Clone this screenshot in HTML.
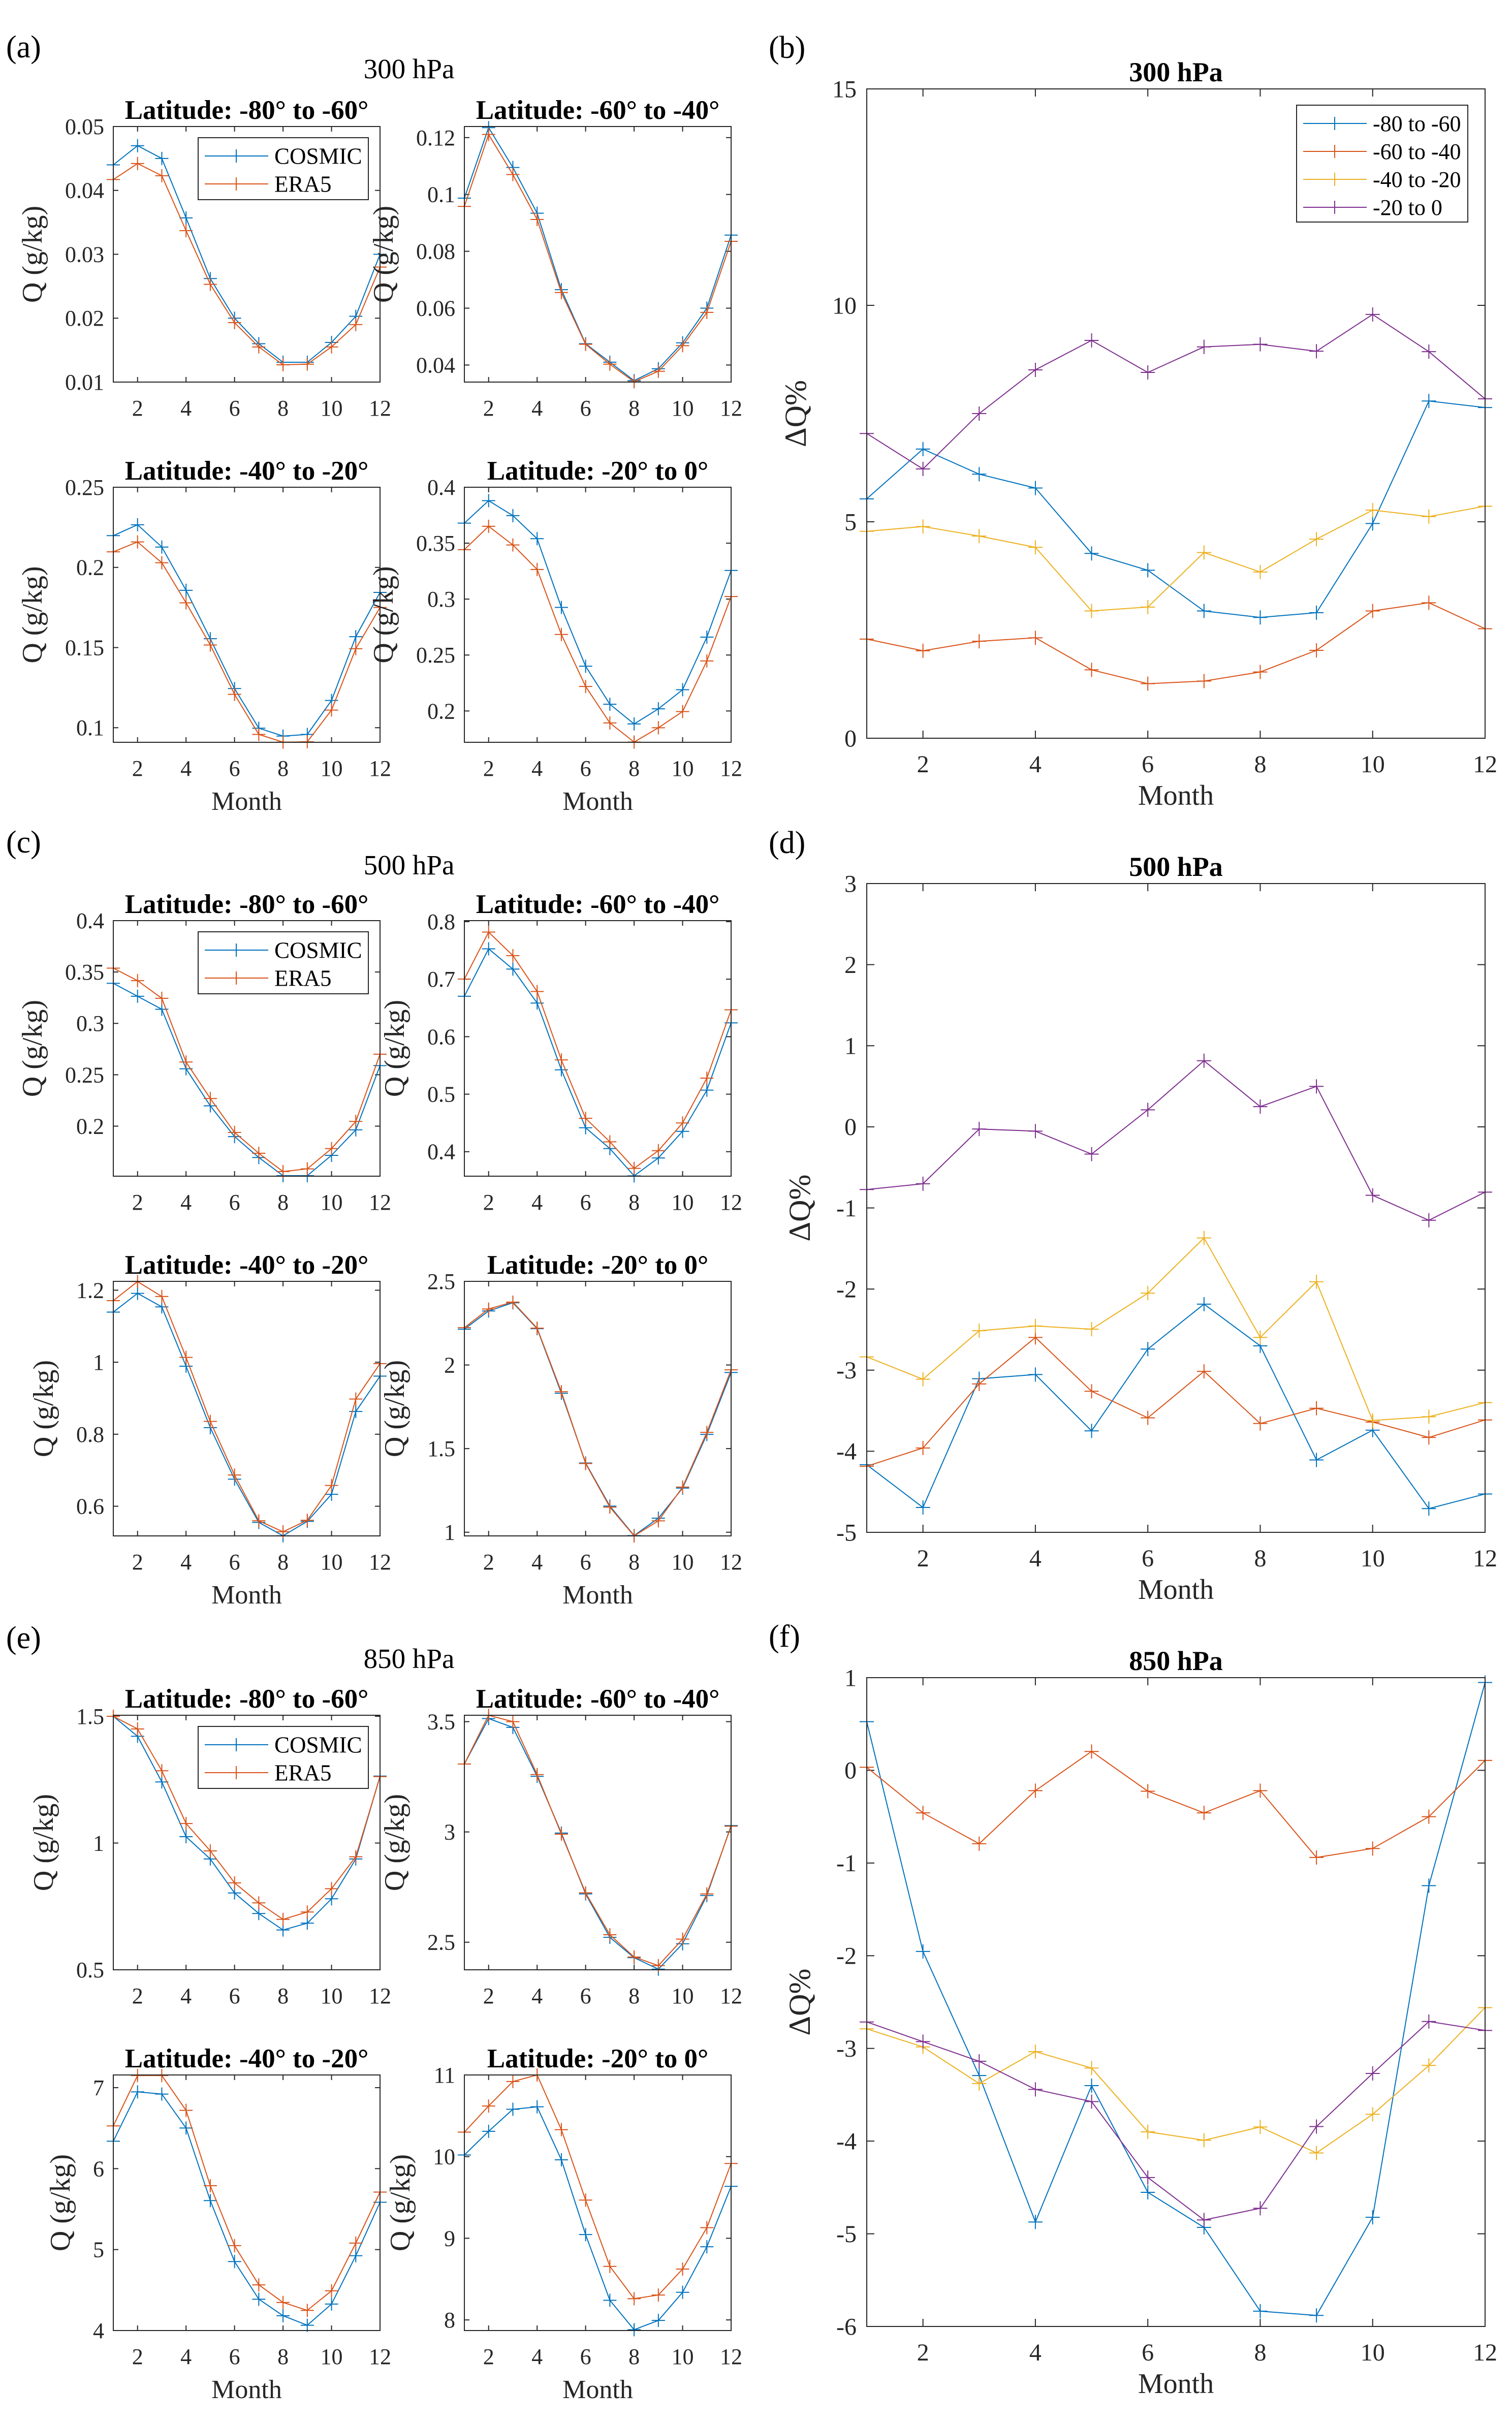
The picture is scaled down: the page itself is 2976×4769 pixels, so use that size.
<!DOCTYPE html>
<html><head><meta charset="utf-8">
<style>
html,body{margin:0;padding:0;background:#fff;}
svg{display:block;font-family:"Liberation Serif",serif;}
</style></head>
<body>
<svg id="fig" width="2976" height="4769" viewBox="0 0 2976 4769" xmlns="http://www.w3.org/2000/svg"></svg>
<script>
// ---------- data ----------
const months = [1,2,3,4,5,6,7,8,9,10,11,12];
const xTicks = [2,4,6,8,10,12];
const latTitles = ["Latitude: -80° to -60°","Latitude: -60° to -40°","Latitude: -40° to -20°","Latitude: -20° to 0°"];
const bandLabels = ["-80 to -60","-60 to -40","-40 to -20","-20 to 0"];

// 300 hPa
const cos300_1 = [0.0440,0.0470,0.0450,0.0357,0.0262,0.0200,0.0160,0.0131,0.0131,0.0162,0.0203,0.0300];
const era300_1 = [0.0417,0.0442,0.0423,0.0337,0.0253,0.0193,0.0155,0.0127,0.0128,0.0155,0.0190,0.0280];
const cos300_2 = [0.0987,0.1235,0.1095,0.0934,0.0665,0.0475,0.0410,0.0345,0.0387,0.0478,0.0600,0.0857];
const era300_2 = [0.0958,0.1211,0.1070,0.0912,0.0655,0.0473,0.0403,0.0341,0.0378,0.0468,0.0585,0.0835];
const cos300_3 = [0.2198,0.2266,0.2127,0.1857,0.1555,0.1244,0.0997,0.0948,0.0958,0.1170,0.1568,0.1844];
const era300_3 = [0.2097,0.2159,0.2029,0.1779,0.1516,0.1208,0.0958,0.0910,0.0912,0.1110,0.1493,0.1750];
const cos300_4 = [0.3679,0.3880,0.3746,0.3540,0.2926,0.2400,0.2060,0.1884,0.2019,0.2190,0.2660,0.3256];
const era300_4 = [0.3442,0.3651,0.3484,0.3265,0.2684,0.2219,0.1893,0.1722,0.1850,0.1995,0.2447,0.3023];
// 500 hPa
const cos500_1 = [0.3390,0.3264,0.3137,0.2558,0.2198,0.1898,0.1695,0.1518,0.1518,0.1716,0.1964,0.2589];
const era500_1 = [0.3538,0.3416,0.3244,0.2624,0.2269,0.1939,0.1736,0.1558,0.1584,0.1782,0.2046,0.2700];
const cos500_2 = [0.6703,0.7528,0.7175,0.6585,0.5424,0.4417,0.4054,0.3580,0.3891,0.4354,0.5070,0.6240];
const era500_2 = [0.7002,0.7819,0.7410,0.6785,0.5596,0.4580,0.4172,0.3710,0.4018,0.4499,0.5279,0.6467];
const cos500_3 = [1.1393,1.1913,1.1537,0.9889,0.8183,0.6752,0.5552,0.5180,0.5580,0.6332,0.8631,0.9614];
const era500_3 = [1.1710,1.2240,1.1826,1.0135,0.8356,0.6867,0.5595,0.5291,0.5610,0.6578,0.8978,0.9960];
const cos500_4 = [2.214,2.323,2.372,2.217,1.831,1.414,1.156,0.980,1.084,1.264,1.585,1.955];
const era500_4 = [2.223,2.335,2.376,2.220,1.840,1.411,1.150,0.978,1.068,1.270,1.597,1.971];
// 850 hPa
const cos850_1 = [1.500,1.421,1.241,1.025,0.937,0.803,0.722,0.657,0.684,0.780,0.937,1.264];
const era850_1 = [1.500,1.450,1.285,1.077,0.969,0.843,0.764,0.699,0.728,0.820,0.946,1.262];
const cos850_2 = [3.308,3.514,3.474,3.252,2.995,2.719,2.522,2.430,2.378,2.493,2.712,3.029];
const era850_2 = [3.308,3.529,3.500,3.260,2.990,2.724,2.534,2.433,2.394,2.514,2.719,3.026];
const cos850_3 = [6.339,6.948,6.921,6.502,5.605,4.852,4.387,4.183,4.065,4.327,4.924,5.585];
const era850_3 = [6.528,7.150,7.150,6.720,5.789,5.049,4.564,4.347,4.249,4.491,5.080,5.710];
const cos850_4 = [10.02,10.31,10.58,10.61,9.961,9.045,8.240,7.880,7.994,8.338,8.896,9.636];
const era850_4 = [10.30,10.62,10.92,11.00,10.33,9.468,8.656,8.260,8.305,8.623,9.130,9.916];

// Delta Q% (big panels)
const dq300_a = [5.53,6.68,6.10,5.78,4.27,3.88,2.94,2.79,2.90,4.96,7.79,7.64];
const dq300_b = [2.29,2.02,2.24,2.32,1.58,1.26,1.32,1.53,2.03,2.94,3.13,2.53];
const dq300_c = [4.78,4.89,4.67,4.41,2.94,3.03,4.29,3.84,4.60,5.27,5.12,5.36];
const dq300_d = [7.04,6.22,7.50,8.51,9.19,8.45,9.04,9.10,8.94,9.79,8.93,7.84];
const dq500_a = [-4.166,-4.693,-3.106,-3.054,-3.749,-2.740,-2.186,-2.700,-4.107,-3.740,-4.707,-4.527];
const dq500_b = [-4.185,-3.960,-3.170,-2.597,-3.260,-3.588,-3.015,-3.658,-3.470,-3.640,-3.830,-3.614];
const dq500_c = [-2.836,-3.112,-2.514,-2.456,-2.495,-2.051,-1.370,-2.597,-1.910,-3.620,-3.575,-3.400];
const dq500_d = [-0.773,-0.702,-0.027,-0.053,-0.336,0.210,0.815,0.249,0.499,-0.844,-1.152,-0.805];
const dq850_a = [0.525,-1.954,-3.293,-4.873,-3.402,-4.553,-4.931,-5.835,-5.881,-4.822,-1.244,0.948];
const dq850_b = [0.033,-0.459,-0.792,-0.219,0.204,-0.225,-0.459,-0.219,-0.940,-0.843,-0.500,0.107];
const dq850_c = [-2.789,-2.984,-3.379,-3.035,-3.212,-3.900,-3.991,-3.848,-4.128,-3.711,-3.184,-2.560];
const dq850_d = [-2.715,-2.927,-3.139,-3.442,-3.574,-4.393,-4.851,-4.725,-3.843,-3.270,-2.710,-2.806];

// ticks / ranges
const yr300 = [[0.01,0.05],[0.034,0.1239],[0.0909,0.25],[0.172,0.4]];
const yt300 = [[0.01,0.02,0.03,0.04,0.05],[0.04,0.06,0.08,0.1,0.12],[0.1,0.15,0.2,0.25],[0.2,0.25,0.3,0.35,0.4]];
const yr500 = [[0.1513,0.4],[0.3574,0.8018],[0.5176,1.2246],[0.978,2.5]];
const yt500 = [[0.2,0.25,0.3,0.35,0.4],[0.4,0.5,0.6,0.7,0.8],[0.6,0.8,1,1.2],[1,1.5,2,2.5]];
const yr850 = [[0.5,1.504],[2.375,3.529],[4,7.157],[7.87,11]];
const yt850 = [[0.5,1,1.5],[2.5,3,3.5],[4,5,6,7],[8,9,10,11]];
const ytDQ300 = [0,5,10,15];
const ytDQ500 = [-5,-4,-3,-2,-1,0,1,2,3];
const ytDQ850 = [-6,-5,-4,-3,-2,-1,0,1];

// ---------- drawing ----------
const NS = "http://www.w3.org/2000/svg";
const svg = document.getElementById("fig");
const BLUE="#0072BD", ORANGE="#D95319", YELLOW="#EDB120", PURPLE="#7E2F8E", AX="#262626";
function mk(tag, attrs, parent){
  const e = document.createElementNS(NS, tag);
  for (const k in attrs) e.setAttribute(k, attrs[k]);
  (parent||svg).appendChild(e);
  return e;
}
function txt(s, x, y, size, opts, parent){
  const t = mk("text", {x:x, y:y, "font-size":size, fill:(opts&&opts.fill)||AX, "text-anchor":(opts&&opts.anchor)||"middle"}, parent);
  if (opts && opts.bold) t.setAttribute("font-weight","bold");
  if (opts && opts.rot) t.setAttribute("transform","rotate(-90 "+x+" "+y+")");
  t.textContent = s;
  return t;
}
function fmt(v){ return String(+v.toFixed(4)); }

function axes(name, L, R, T, B, yr, yticks, series, colors, o){
  const g = mk("g", {});
  
  
  const sx = v => L + (v-1)/(11)*(R-L);
  const sy = v => B - (v-yr[0])/(yr[1]-yr[0])*(B-T);
  const tl = o.tick;
  xTicks.forEach(t=>{
    const x = sx(t);
    mk("line",{x1:x,y1:B,x2:x,y2:B-tl,stroke:AX,"stroke-width":2},g);
    mk("line",{x1:x,y1:T,x2:x,y2:T+tl,stroke:AX,"stroke-width":2},g);
    const lab = txt(String(t), x, B+o.xtOff, o.tf, {}, g);
    
    
  });
  let maxW = 0;
  yticks.forEach(t=>{
    const y = sy(t);
    mk("line",{x1:L,y1:y,x2:L+tl,y2:y,stroke:AX,"stroke-width":2},g);
    mk("line",{x1:R,y1:y,x2:R-tl,y2:y,stroke:AX,"stroke-width":2},g);
    const lab = txt(fmt(t), L-o.ytGap, y+o.tf*0.34, o.tf, {anchor:"end"}, g);
    
    
    try{ maxW = Math.max(maxW, lab.getComputedTextLength()); }catch(e){}
  });
  if (!maxW) maxW = o.tf*2;
  const cp = "clip-"+name;
  const cpe = mk("clipPath",{id:cp},g);
  mk("rect",{x:L-16,y:T-16,width:R-L+32,height:B-T+32},cpe);
  series.forEach((s,i)=>{
    const pts = s.map((v,j)=>sx(months[j]).toFixed(1)+","+sy(v).toFixed(1)).join(" ");
    const pl = mk("polyline",{points:pts,fill:"none",stroke:colors[i],"stroke-width":o.lw,"clip-path":"url(#"+cp+")"},g);
    
    
    const m = o.ms;
    let d = "";
    s.forEach((v,j)=>{ const x=sx(months[j]), y=sy(v); d += "M"+(x-m)+" "+y+"h"+(2*m)+"M"+x+" "+(y-m)+"v"+(2*m); });
    const mp = mk("path",{d:d,stroke:colors[i],"stroke-width":2,fill:"none","clip-path":"url(#"+cp+")"},g);
    
    
  });
  mk("rect",{x:L,y:T,width:R-L,height:B-T,fill:"none",stroke:AX,"stroke-width":2},g);
  const tt = txt(o.title, (L+R)/2, T-15, o.titleF, {bold:true, fill:"#000"}, g);
  
  
  if (o.xlabel){
    const xl = txt("Month", (L+R)/2, B+o.xlOff, o.lf, {}, g);
    
    
  }
  const yx = L - o.ytGap - maxW - o.ylGap;
  const yl = txt(o.ylabel, yx, (T+B)/2, o.ylf, {rot:true}, g);
  
  
  return {g, L, T};
}

function legend(x0, y0, w, h, labels, colors, rowY, fs){
  const g = mk("g",{});
  
  
  mk("rect",{x:x0,y:y0,width:w,height:h,fill:"#fff",stroke:AX,"stroke-width":2},g);
  labels.forEach((lab,i)=>{
    const y = rowY[i];
    mk("line",{x1:x0+13,y1:y,x2:x0+138,y2:y,stroke:colors[i],"stroke-width":2},g);
    mk("path",{d:"M"+(x0+62)+" "+y+"h26M"+(x0+75)+" "+(y-13)+"v26",stroke:colors[i],"stroke-width":2},g);
    const t = txt(lab, x0+150, y+fs*0.34, fs, {anchor:"start", fill:"#000"}, g);
    
    
  });
}

const smallOpt = {tick:10, xtOff:66, tf:44, ytGap:18, ylGap:46, lf:52, ylf:56, titleF:53, lw:2, ms:13, xlOff:133};
const bigOpt = {tick:15, xtOff:67, tf:48, ytGap:20, ylGap:52, lf:56, ylf:60, titleF:54, lw:2, ms:14, xlOff:131, xlabel:true, ylabel:"ΔQ%"};

const blocks = [
  {lab:"(a)", labY:113, head:"300 hPa", headY:154, rows:[[249,752],[959,1461]], yr:yr300, yt:yt300,
   data:[[cos300_1,era300_1],[cos300_2,era300_2],[cos300_3,era300_3],[cos300_4,era300_4]],
   blab:"(b)", blabY:114, btitle:"300 hPa", big:[175,1453], byt:ytDQ300, byr:[0,15], bdata:[dq300_a,dq300_b,dq300_c,dq300_d], leg:true},
  {lab:"(c)", labY:1678, head:"500 hPa", headY:1721, rows:[[1812,2315],[2522,3023]], yr:yr500, yt:yt500,
   data:[[cos500_1,era500_1],[cos500_2,era500_2],[cos500_3,era500_3],[cos500_4,era500_4]],
   blab:"(d)", blabY:1679, btitle:"500 hPa", big:[1739,3016], byt:ytDQ500, byr:[-5,3], bdata:[dq500_a,dq500_b,dq500_c,dq500_d], leg:false},
  {lab:"(e)", labY:3244, head:"850 hPa", headY:3283, rows:[[3376,3877],[4084,4587]], yr:yr850, yt:yt850,
   data:[[cos850_1,era850_1],[cos850_2,era850_2],[cos850_3,era850_3],[cos850_4,era850_4]],
   blab:"(f)", blabY:3241, btitle:"850 hPa", big:[3302,4579], byt:ytDQ850, byr:[-6,1], bdata:[dq850_a,dq850_b,dq850_c,dq850_d], leg:false}
];
const cols = [[223,748],[914,1439]];
const BL = 1706, BR = 2923;

blocks.forEach((b,bi)=>{
  const pl = txt(b.lab, 12, b.labY, 62, {anchor:"start", fill:"#000"});
  
  
  const hd = txt(b.head, 805, b.headY, 55, {fill:"#000"});
  
  
  for (let k=0;k<4;k++){
    const r = b.rows[Math.floor(k/2)], c = cols[k%2];
    const o = Object.assign({}, smallOpt, {title:latTitles[k], ylabel:"Q (g/kg)", xlabel:k>=2});
    axes("q-panel-"+b.head.split(" ")[0]+"-"+(k+1), c[0], c[1], r[0], r[1], b.yr[k], b.yt[k], b.data[k], [BLUE,ORANGE], o);
    if (k===0){
      legend(390, r[0]+22, 335, 122, ["COSMIC","ERA5"], [BLUE,ORANGE], [r[0]+58, r[0]+113], 45);
    }
  }
  const bl = txt(b.blab, 1513, b.blabY, 62, {anchor:"start", fill:"#000"});
  
  
  const o = Object.assign({}, bigOpt, {title:b.btitle});
  axes("dq-panel-"+b.btitle.split(" ")[0], BL, BR, b.big[0], b.big[1], b.byr, b.byt, b.bdata, [BLUE,ORANGE,YELLOW,PURPLE], o);
  if (b.leg){
    legend(2552, 207, 337, 230, bandLabels, [BLUE,ORANGE,YELLOW,PURPLE], [243,298,353,408], 44);
  }
});
</script>
</body></html>
